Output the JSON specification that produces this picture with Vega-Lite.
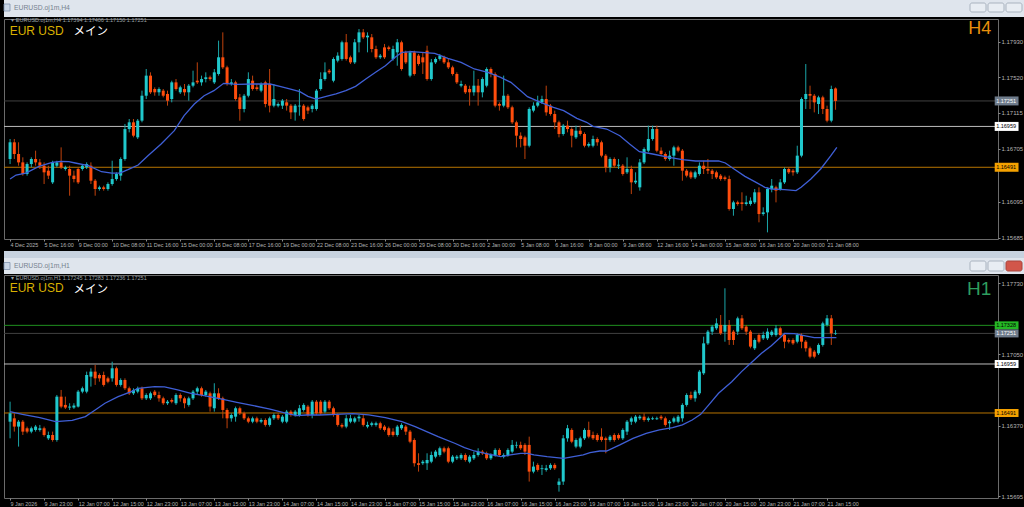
{
"$schema": "https://vega.github.io/schema/vega-lite/v6.json",
"background": "#000000",
"padding": {"left": 3, "top": 0, "right": 0, "bottom": 4},
"spacing": 0,
"config": {"view": {"stroke": "#6b6b6b"}, "text": {"font": "Liberation Sans"}, "axis": {"labelOverlap": false, "labelBound": false, "labelSeparation": 0, "title": null}},
"resolve": {"scale": {"x": "independent", "y": "independent", "color": "independent", "fill": "independent"}},
"datasets": {
"h4lv": [{"p":1.17251,"k":"price"},{"p":1.16959,"k":"white"},{"p":1.16491,"k":"orange"}],
"h1lv": [{"p":1.17328,"k":"green"},{"p":1.17251,"k":"price"},{"p":1.16959,"k":"white"},{"p":1.16491,"k":"orange"}],
"h4": [
{"i":0,"o":1.16586,"h":1.16815,"l":1.16528,"c":1.16777},{"i":1,"o":1.16777,"h":1.16815,"l":1.16586,"c":1.16643},{"i":2,"o":1.16643,"h":1.16777,"l":1.16509,"c":1.16547},{"i":3,"o":1.16547,"h":1.16605,"l":1.16395,"c":1.16414},{"i":4,"o":1.16414,"h":1.16547,"l":1.16395,"c":1.16528},{"i":5,"o":1.16528,"h":1.16605,"l":1.1649,"c":1.16586},{"i":6,"o":1.16586,"h":1.16681,"l":1.16509,"c":1.16547},{"i":7,"o":1.16547,"h":1.16586,"l":1.16471,"c":1.16509},{"i":8,"o":1.16509,"h":1.16547,"l":1.16299,"c":1.16433},{"i":9,"o":1.16452,"h":1.16509,"l":1.16356,"c":1.16395},
{"i":10,"o":1.16318,"h":1.16566,"l":1.16299,"c":1.16547},{"i":11,"o":1.16509,"h":1.16566,"l":1.1649,"c":1.16547},{"i":12,"o":1.16547,"h":1.16719,"l":1.16471,"c":1.1649},{"i":13,"o":1.16471,"h":1.16509,"l":1.16452,"c":1.1649},{"i":14,"o":1.16471,"h":1.16509,"l":1.16165,"c":1.16395},{"i":15,"o":1.16395,"h":1.16452,"l":1.16318,"c":1.16356},{"i":16,"o":1.16471,"h":1.1649,"l":1.16299,"c":1.16318},{"i":17,"o":1.16471,"h":1.16528,"l":1.16452,"c":1.16509},{"i":18,"o":1.1649,"h":1.16547,"l":1.16471,"c":1.16528},{"i":19,"o":1.16509,"h":1.16547,"l":1.16299,"c":1.16337},
{"i":20,"o":1.16337,"h":1.16356,"l":1.16165,"c":1.16242},{"i":21,"o":1.16242,"h":1.1628,"l":1.16223,"c":1.16261},{"i":22,"o":1.16261,"h":1.1628,"l":1.16223,"c":1.16242},{"i":23,"o":1.16242,"h":1.16318,"l":1.16223,"c":1.16299},{"i":24,"o":1.16299,"h":1.16566,"l":1.1628,"c":1.16356},{"i":25,"o":1.16356,"h":1.16433,"l":1.16337,"c":1.16414},{"i":26,"o":1.16395,"h":1.16605,"l":1.16337,"c":1.16586},{"i":27,"o":1.16586,"h":1.16987,"l":1.16566,"c":1.16929},{"i":28,"o":1.16929,"h":1.17044,"l":1.16891,"c":1.17006},{"i":29,"o":1.17006,"h":1.17044,"l":1.16834,"c":1.16853},
{"i":30,"o":1.16834,"h":1.17044,"l":1.16815,"c":1.17025},{"i":31,"o":1.17025,"h":1.17369,"l":1.17006,"c":1.17311},{"i":32,"o":1.17311,"h":1.17617,"l":1.17273,"c":1.17541},{"i":33,"o":1.17541,"h":1.17579,"l":1.17331,"c":1.1735},{"i":34,"o":1.17388,"h":1.17407,"l":1.17311,"c":1.1735},{"i":35,"o":1.1735,"h":1.17407,"l":1.17311,"c":1.17388},{"i":36,"o":1.17369,"h":1.17388,"l":1.17292,"c":1.17311},{"i":37,"o":1.17331,"h":1.17369,"l":1.17197,"c":1.17254},{"i":38,"o":1.17273,"h":1.17483,"l":1.17235,"c":1.17464},{"i":39,"o":1.17464,"h":1.17502,"l":1.17369,"c":1.17388},
{"i":40,"o":1.1735,"h":1.17426,"l":1.17331,"c":1.17407},{"i":41,"o":1.17388,"h":1.17445,"l":1.17311,"c":1.1735},{"i":42,"o":1.1735,"h":1.17445,"l":1.17254,"c":1.17426},{"i":43,"o":1.17426,"h":1.17598,"l":1.17407,"c":1.17464},{"i":44,"o":1.17483,"h":1.17693,"l":1.17445,"c":1.17464},{"i":45,"o":1.17464,"h":1.17541,"l":1.17426,"c":1.17502},{"i":46,"o":1.17502,"h":1.17579,"l":1.17464,"c":1.17522},{"i":47,"o":1.17522,"h":1.17541,"l":1.17483,"c":1.17502},{"i":48,"o":1.17464,"h":1.17617,"l":1.17445,"c":1.17579},{"i":49,"o":1.1756,"h":1.17942,"l":1.17541,"c":1.17751},
{"i":50,"o":1.17751,"h":1.18037,"l":1.17617,"c":1.17636},{"i":51,"o":1.17636,"h":1.17655,"l":1.17426,"c":1.17445},{"i":52,"o":1.17445,"h":1.17502,"l":1.17426,"c":1.17464},{"i":53,"o":1.17464,"h":1.17483,"l":1.17254,"c":1.17273},{"i":54,"o":1.17292,"h":1.17331,"l":1.17025,"c":1.17159},{"i":55,"o":1.17159,"h":1.17331,"l":1.1712,"c":1.17311},{"i":56,"o":1.17311,"h":1.17579,"l":1.17292,"c":1.17502},{"i":57,"o":1.17483,"h":1.17541,"l":1.17369,"c":1.17388},{"i":58,"o":1.17407,"h":1.17445,"l":1.17369,"c":1.17388},{"i":59,"o":1.17369,"h":1.17464,"l":1.1735,"c":1.17445},
{"i":60,"o":1.17464,"h":1.17483,"l":1.17178,"c":1.17216},{"i":61,"o":1.17445,"h":1.17617,"l":1.1712,"c":1.17197},{"i":62,"o":1.17197,"h":1.17445,"l":1.17178,"c":1.17273},{"i":63,"o":1.17197,"h":1.17235,"l":1.17178,"c":1.17216},{"i":64,"o":1.17197,"h":1.17273,"l":1.17159,"c":1.17254},{"i":65,"o":1.17235,"h":1.17273,"l":1.1714,"c":1.17197},{"i":66,"o":1.17197,"h":1.17216,"l":1.17044,"c":1.1712},{"i":67,"o":1.1712,"h":1.17216,"l":1.17025,"c":1.17197},{"i":68,"o":1.17188,"h":1.17388,"l":1.17082,"c":1.17197},{"i":69,"o":1.17197,"h":1.17216,"l":1.17025,"c":1.17044},
{"i":70,"o":1.17178,"h":1.17197,"l":1.17101,"c":1.1714},{"i":71,"o":1.17159,"h":1.17216,"l":1.1712,"c":1.17197},{"i":72,"o":1.17159,"h":1.17388,"l":1.1714,"c":1.17369},{"i":73,"o":1.17388,"h":1.17579,"l":1.17369,"c":1.17502},{"i":74,"o":1.17502,"h":1.17693,"l":1.17483,"c":1.17579},{"i":75,"o":1.17598,"h":1.17617,"l":1.1756,"c":1.17579},{"i":76,"o":1.17483,"h":1.17751,"l":1.17464,"c":1.17732},{"i":77,"o":1.17713,"h":1.17808,"l":1.17693,"c":1.1777},{"i":78,"o":1.17732,"h":1.17942,"l":1.17713,"c":1.17923},{"i":79,"o":1.17923,"h":1.18018,"l":1.17713,"c":1.17732},
{"i":80,"o":1.17751,"h":1.1777,"l":1.17674,"c":1.17693},{"i":81,"o":1.17693,"h":1.17961,"l":1.17674,"c":1.17923},{"i":82,"o":1.17923,"h":1.18075,"l":1.17808,"c":1.18037},{"i":83,"o":1.18037,"h":1.18075,"l":1.17961,"c":1.1798},{"i":84,"o":1.1798,"h":1.18037,"l":1.17808,"c":1.17999},{"i":85,"o":1.1798,"h":1.18018,"l":1.17808,"c":1.17846},{"i":86,"o":1.17846,"h":1.17884,"l":1.17732,"c":1.17751},{"i":87,"o":1.17751,"h":1.17789,"l":1.17732,"c":1.1777},{"i":88,"o":1.17865,"h":1.17904,"l":1.17732,"c":1.17751},{"i":89,"o":1.17865,"h":1.17884,"l":1.17827,"c":1.17846},
{"i":90,"o":1.17732,"h":1.17884,"l":1.17713,"c":1.17846},{"i":91,"o":1.17808,"h":1.17961,"l":1.17655,"c":1.17923},{"i":92,"o":1.17923,"h":1.17942,"l":1.17598,"c":1.17617},{"i":93,"o":1.17808,"h":1.17827,"l":1.17674,"c":1.17693},{"i":94,"o":1.17541,"h":1.17827,"l":1.17522,"c":1.17808},{"i":95,"o":1.17808,"h":1.17827,"l":1.17541,"c":1.1756},{"i":96,"o":1.1777,"h":1.17789,"l":1.17655,"c":1.17674},{"i":97,"o":1.17751,"h":1.17808,"l":1.1756,"c":1.17693},{"i":98,"o":1.17827,"h":1.17884,"l":1.17483,"c":1.17502},{"i":99,"o":1.17502,"h":1.17732,"l":1.17483,"c":1.17693},
{"i":100,"o":1.17693,"h":1.17751,"l":1.17674,"c":1.17732},{"i":101,"o":1.17732,"h":1.17789,"l":1.17713,"c":1.1777},{"i":102,"o":1.17751,"h":1.1777,"l":1.17674,"c":1.17693},{"i":103,"o":1.17693,"h":1.17732,"l":1.17617,"c":1.17636},{"i":104,"o":1.17636,"h":1.17655,"l":1.17541,"c":1.1756},{"i":105,"o":1.1756,"h":1.17579,"l":1.17445,"c":1.17464},{"i":106,"o":1.17426,"h":1.17483,"l":1.17407,"c":1.17445},{"i":107,"o":1.17426,"h":1.17445,"l":1.17331,"c":1.1735},{"i":108,"o":1.17388,"h":1.17426,"l":1.17197,"c":1.1735},{"i":109,"o":1.1735,"h":1.17598,"l":1.17311,"c":1.17426},
{"i":110,"o":1.17426,"h":1.17502,"l":1.17197,"c":1.1735},{"i":111,"o":1.1735,"h":1.17522,"l":1.17292,"c":1.17502},{"i":112,"o":1.17426,"h":1.17636,"l":1.17407,"c":1.17617},{"i":113,"o":1.17617,"h":1.17636,"l":1.17522,"c":1.1756},{"i":114,"o":1.1756,"h":1.17579,"l":1.17178,"c":1.17197},{"i":115,"o":1.17216,"h":1.17235,"l":1.1714,"c":1.17197},{"i":116,"o":1.17197,"h":1.17541,"l":1.17178,"c":1.17311},{"i":117,"o":1.17311,"h":1.17331,"l":1.17159,"c":1.17178},{"i":118,"o":1.17178,"h":1.17197,"l":1.16987,"c":1.17006},{"i":119,"o":1.17006,"h":1.17025,"l":1.16719,"c":1.16853},
{"i":120,"o":1.16853,"h":1.16891,"l":1.16719,"c":1.16815},{"i":121,"o":1.16834,"h":1.16853,"l":1.16586,"c":1.16738},{"i":122,"o":1.16738,"h":1.17178,"l":1.16719,"c":1.17159},{"i":123,"o":1.1714,"h":1.17235,"l":1.1712,"c":1.17197},{"i":124,"o":1.17197,"h":1.17311,"l":1.17178,"c":1.17235},{"i":125,"o":1.17235,"h":1.17311,"l":1.17216,"c":1.17273},{"i":126,"o":1.17273,"h":1.17426,"l":1.17082,"c":1.1712},{"i":127,"o":1.17197,"h":1.17216,"l":1.17082,"c":1.17101},{"i":128,"o":1.17101,"h":1.1714,"l":1.16929,"c":1.17006},{"i":129,"o":1.17006,"h":1.17025,"l":1.16834,"c":1.16872},
{"i":130,"o":1.16872,"h":1.16987,"l":1.16853,"c":1.16968},{"i":131,"o":1.16968,"h":1.17025,"l":1.16891,"c":1.16929},{"i":132,"o":1.16929,"h":1.16948,"l":1.16719,"c":1.16853},{"i":133,"o":1.16834,"h":1.16968,"l":1.16815,"c":1.1691},{"i":134,"o":1.1691,"h":1.16968,"l":1.16853,"c":1.16872},{"i":135,"o":1.16872,"h":1.16891,"l":1.16719,"c":1.16738},{"i":136,"o":1.16738,"h":1.16777,"l":1.16719,"c":1.16758},{"i":137,"o":1.16738,"h":1.16853,"l":1.16719,"c":1.16815},{"i":138,"o":1.16815,"h":1.16834,"l":1.16738,"c":1.16777},{"i":139,"o":1.16777,"h":1.16796,"l":1.16605,"c":1.16624},
{"i":140,"o":1.16624,"h":1.16643,"l":1.16433,"c":1.1649},{"i":141,"o":1.1649,"h":1.16605,"l":1.16433,"c":1.16586},{"i":142,"o":1.16586,"h":1.16605,"l":1.1649,"c":1.16509},{"i":143,"o":1.16509,"h":1.16586,"l":1.16471,"c":1.1652},{"i":144,"o":1.16509,"h":1.16528,"l":1.16395,"c":1.16414},{"i":145,"o":1.16433,"h":1.16605,"l":1.16414,"c":1.16471},{"i":146,"o":1.16471,"h":1.16509,"l":1.16184,"c":1.16318},{"i":147,"o":1.16318,"h":1.16433,"l":1.16299,"c":1.16337},{"i":148,"o":1.16261,"h":1.16586,"l":1.16223,"c":1.16547},{"i":149,"o":1.16547,"h":1.16719,"l":1.16528,"c":1.167},
{"i":150,"o":1.16681,"h":1.16968,"l":1.16662,"c":1.16815},{"i":151,"o":1.16815,"h":1.16968,"l":1.16796,"c":1.16929},{"i":152,"o":1.16929,"h":1.16968,"l":1.16662,"c":1.16681},{"i":153,"o":1.16681,"h":1.16719,"l":1.16624,"c":1.16643},{"i":154,"o":1.16643,"h":1.16662,"l":1.16566,"c":1.16586},{"i":155,"o":1.16586,"h":1.16681,"l":1.16566,"c":1.16624},{"i":156,"o":1.16624,"h":1.16738,"l":1.16509,"c":1.16719},{"i":157,"o":1.16719,"h":1.16738,"l":1.16662,"c":1.16681},{"i":158,"o":1.16681,"h":1.167,"l":1.16337,"c":1.16452},{"i":159,"o":1.16452,"h":1.16471,"l":1.16375,"c":1.16395},
{"i":160,"o":1.16433,"h":1.16452,"l":1.16356,"c":1.16375},{"i":161,"o":1.16375,"h":1.16452,"l":1.16356,"c":1.16433},{"i":162,"o":1.16414,"h":1.16547,"l":1.16395,"c":1.16509},{"i":163,"o":1.16509,"h":1.16566,"l":1.16414,"c":1.16471},{"i":164,"o":1.16471,"h":1.16586,"l":1.16414,"c":1.16452},{"i":165,"o":1.16452,"h":1.16471,"l":1.16356,"c":1.16414},{"i":166,"o":1.16433,"h":1.16452,"l":1.16356,"c":1.16375},{"i":167,"o":1.16395,"h":1.16414,"l":1.16337,"c":1.16356},{"i":168,"o":1.16375,"h":1.16395,"l":1.16337,"c":1.16356},{"i":169,"o":1.16356,"h":1.16395,"l":1.15994,"c":1.16013},
{"i":170,"o":1.16013,"h":1.16108,"l":1.15936,"c":1.16089},{"i":171,"o":1.16089,"h":1.16108,"l":1.16051,"c":1.1607},{"i":172,"o":1.16089,"h":1.16204,"l":1.15994,"c":1.1607},{"i":173,"o":1.1607,"h":1.16165,"l":1.16051,"c":1.16089},{"i":174,"o":1.1607,"h":1.16146,"l":1.16051,"c":1.16108},{"i":175,"o":1.16089,"h":1.16242,"l":1.1607,"c":1.16204},{"i":176,"o":1.16204,"h":1.16261,"l":1.1586,"c":1.15955},{"i":177,"o":1.15955,"h":1.16032,"l":1.15936,"c":1.15974},{"i":178,"o":1.15974,"h":1.16261,"l":1.15745,"c":1.16242},{"i":179,"o":1.16242,"h":1.16356,"l":1.16204,"c":1.1628},
{"i":180,"o":1.16261,"h":1.1628,"l":1.16089,"c":1.16223},{"i":181,"o":1.16242,"h":1.16356,"l":1.16223,"c":1.16318},{"i":182,"o":1.16318,"h":1.1649,"l":1.16299,"c":1.16471},{"i":183,"o":1.16471,"h":1.1649,"l":1.16414,"c":1.16433},{"i":184,"o":1.16452,"h":1.16471,"l":1.16395,"c":1.16433},{"i":185,"o":1.16433,"h":1.16738,"l":1.16414,"c":1.16624},{"i":186,"o":1.16624,"h":1.17292,"l":1.16605,"c":1.17273},{"i":187,"o":1.17273,"h":1.17674,"l":1.17159,"c":1.17331},{"i":188,"o":1.17331,"h":1.17426,"l":1.17159,"c":1.17311},{"i":189,"o":1.17311,"h":1.17331,"l":1.1712,"c":1.17235},
{"i":190,"o":1.17216,"h":1.17311,"l":1.17101,"c":1.17292},{"i":191,"o":1.17292,"h":1.17311,"l":1.17101,"c":1.17159},{"i":192,"o":1.17159,"h":1.17197,"l":1.17006,"c":1.17025},{"i":193,"o":1.17025,"h":1.17426,"l":1.17006,"c":1.17388},{"i":194,"o":1.17394,"h":1.17406,"l":1.1715,"c":1.17251}
],
"h4ma": [
{"i":0,"m":1.16356},{"i":1.4,"m":1.16402},{"i":3.7,"m":1.16425},{"i":6.8,"m":1.16502},{"i":9.9,"m":1.16547},{"i":11.9,"m":1.16559},{"i":13.8,"m":1.16555},{"i":15.3,"m":1.1654},{"i":18.4,"m":1.16509},{"i":21.5,"m":1.1644},{"i":23.9,"m":1.16425},{"i":25.8,"m":1.16425},{"i":27.7,"m":1.16463},{"i":30.1,"m":1.16517},{"i":32.4,"m":1.16624},{"i":35.5,"m":1.16758},{"i":38.6,"m":1.1691},{"i":40.9,"m":1.17082},{"i":43.3,"m":1.17216},{"i":45.6,"m":1.17311},{"i":47.9,"m":1.17369},{"i":50.2,"m":1.17453},{"i":53.3,"m":1.17441},{"i":57.2,"m":1.17445},{"i":61.1,"m":1.17445},{"i":63.4,"m":1.17418},{"i":65.7,"m":1.17388},{"i":68.1,"m":1.17357},{"i":70,"m":1.17304},{"i":71.9,"m":1.17273},{"i":74.3,"m":1.17304},{"i":76.6,"m":1.17331},{"i":78.9,"m":1.17369},{"i":81.2,"m":1.17418},{"i":83.6,"m":1.17502},{"i":85.9,"m":1.17579},{"i":88.2,"m":1.17655},{"i":90.5,"m":1.17751},{"i":92.1,"m":1.17808},{"i":94.4,"m":1.17816},{"i":96.7,"m":1.17808},{"i":99.8,"m":1.17797},{"i":102.9,"m":1.17739},{"i":106,"m":1.17693},{"i":109.1,"m":1.17617},{"i":112.3,"m":1.17579},{"i":115.3,"m":1.17522},{"i":117.7,"m":1.17464},{"i":120,"m":1.17369},{"i":121.6,"m":1.173},{"i":124.7,"m":1.17235},{"i":127.7,"m":1.17178},{"i":130.1,"m":1.1714},{"i":133.2,"m":1.17052},{"i":135.5,"m":1.17006},{"i":137,"m":1.1696},{"i":140.2,"m":1.16929},{"i":143.3,"m":1.16853},{"i":145.6,"m":1.16758},{"i":147.9,"m":1.1667},{"i":151,"m":1.16643},{"i":154.9,"m":1.16605},{"i":158,"m":1.16578},{"i":161.1,"m":1.16563},{"i":166.5,"m":1.16563},{"i":168.1,"m":1.1654},{"i":170.4,"m":1.16463},{"i":172.7,"m":1.16387},{"i":175,"m":1.16326},{"i":177.4,"m":1.16261},{"i":178.9,"m":1.16242},{"i":182,"m":1.16234},{"i":184.7,"m":1.16223},{"i":185.9,"m":1.16261},{"i":188.2,"m":1.16356},{"i":190.5,"m":1.16471},{"i":192.9,"m":1.16624},{"i":194.3,"m":1.16719}
],
"h1": [
{"i":0,"o":1.16408,"h":1.16599,"l":1.16249,"c":1.16488},{"i":1,"o":1.1644,"h":1.16488,"l":1.16313,"c":1.16361},{"i":2,"o":1.16361,"h":1.16424,"l":1.1617,"c":1.16408},{"i":3,"o":1.16408,"h":1.16424,"l":1.16281,"c":1.16313},{"i":4,"o":1.16345,"h":1.16361,"l":1.16297,"c":1.16313},{"i":5,"o":1.16313,"h":1.16361,"l":1.16297,"c":1.16345},{"i":6,"o":1.16329,"h":1.16377,"l":1.16313,"c":1.16361},{"i":7,"o":1.16329,"h":1.16377,"l":1.16313,"c":1.16345},{"i":8,"o":1.16345,"h":1.16361,"l":1.16265,"c":1.16281},{"i":9,"o":1.16249,"h":1.16313,"l":1.16233,"c":1.16281},
{"i":10,"o":1.16281,"h":1.16313,"l":1.16217,"c":1.16233},{"i":11,"o":1.16233,"h":1.16663,"l":1.16217,"c":1.16647},{"i":12,"o":1.16647,"h":1.16711,"l":1.16536,"c":1.16552},{"i":13,"o":1.16568,"h":1.16647,"l":1.16529,"c":1.16543},{"i":14,"o":1.16543,"h":1.16584,"l":1.1652,"c":1.16552},{"i":15,"o":1.16543,"h":1.16584,"l":1.1653,"c":1.16562},{"i":16,"o":1.16552,"h":1.16711,"l":1.16543,"c":1.16695},{"i":17,"o":1.16695,"h":1.16743,"l":1.16679,"c":1.16727},{"i":18,"o":1.16695,"h":1.16886,"l":1.16679,"c":1.16854},{"i":19,"o":1.16838,"h":1.16918,"l":1.16743,"c":1.16886},
{"i":20,"o":1.16886,"h":1.1695,"l":1.16759,"c":1.16822},{"i":21,"o":1.16854,"h":1.1687,"l":1.1679,"c":1.16822},{"i":22,"o":1.16854,"h":1.16886,"l":1.16743,"c":1.16759},{"i":23,"o":1.16822,"h":1.16838,"l":1.16775,"c":1.1679},{"i":24,"o":1.16822,"h":1.16981,"l":1.1679,"c":1.16918},{"i":25,"o":1.16918,"h":1.16934,"l":1.16743,"c":1.16759},{"i":26,"o":1.16759,"h":1.16822,"l":1.16743,"c":1.16806},{"i":27,"o":1.16806,"h":1.16822,"l":1.16711,"c":1.16727},{"i":28,"o":1.16727,"h":1.16743,"l":1.16663,"c":1.16679},{"i":29,"o":1.16679,"h":1.16727,"l":1.16663,"c":1.16711},
{"i":30,"o":1.16695,"h":1.16743,"l":1.16679,"c":1.16727},{"i":31,"o":1.16727,"h":1.16743,"l":1.16615,"c":1.16631},{"i":32,"o":1.16631,"h":1.16679,"l":1.16615,"c":1.16663},{"i":33,"o":1.16631,"h":1.16695,"l":1.16615,"c":1.16679},{"i":34,"o":1.16695,"h":1.16711,"l":1.16647,"c":1.16663},{"i":35,"o":1.16663,"h":1.16695,"l":1.16599,"c":1.16631},{"i":36,"o":1.16631,"h":1.16647,"l":1.16568,"c":1.16584},{"i":37,"o":1.16584,"h":1.16615,"l":1.16568,"c":1.16599},{"i":38,"o":1.16615,"h":1.16631,"l":1.16584,"c":1.16599},{"i":39,"o":1.16584,"h":1.16679,"l":1.16568,"c":1.16663},
{"i":40,"o":1.16663,"h":1.16679,"l":1.16599,"c":1.16631},{"i":41,"o":1.16631,"h":1.16647,"l":1.16536,"c":1.16584},{"i":42,"o":1.16568,"h":1.16647,"l":1.16552,"c":1.16631},{"i":43,"o":1.16631,"h":1.16711,"l":1.16615,"c":1.16695},{"i":44,"o":1.16695,"h":1.16743,"l":1.16663,"c":1.16727},{"i":45,"o":1.16727,"h":1.16743,"l":1.16647,"c":1.16663},{"i":46,"o":1.16663,"h":1.16711,"l":1.16647,"c":1.16695},{"i":47,"o":1.16679,"h":1.16695,"l":1.16504,"c":1.16552},{"i":48,"o":1.16536,"h":1.16775,"l":1.16504,"c":1.16679},{"i":49,"o":1.16679,"h":1.16727,"l":1.16615,"c":1.16631},
{"i":50,"o":1.16631,"h":1.16647,"l":1.1644,"c":1.1652},{"i":51,"o":1.1652,"h":1.16536,"l":1.16345,"c":1.1644},{"i":52,"o":1.1644,"h":1.16488,"l":1.16408,"c":1.16472},{"i":53,"o":1.16456,"h":1.16552,"l":1.16408,"c":1.16536},{"i":54,"o":1.16536,"h":1.16552,"l":1.16472,"c":1.16488},{"i":55,"o":1.16488,"h":1.16504,"l":1.16424,"c":1.1644},{"i":56,"o":1.1644,"h":1.16456,"l":1.16393,"c":1.16408},{"i":57,"o":1.16408,"h":1.16456,"l":1.16393,"c":1.1644},{"i":58,"o":1.1644,"h":1.16456,"l":1.16393,"c":1.16408},{"i":59,"o":1.16408,"h":1.1644,"l":1.16393,"c":1.16424},
{"i":60,"o":1.16424,"h":1.1644,"l":1.16361,"c":1.16377},{"i":61,"o":1.16377,"h":1.16456,"l":1.16361,"c":1.1644},{"i":62,"o":1.1644,"h":1.16488,"l":1.16424,"c":1.16472},{"i":63,"o":1.16472,"h":1.16488,"l":1.16424,"c":1.1644},{"i":64,"o":1.16408,"h":1.16472,"l":1.16393,"c":1.16456},{"i":65,"o":1.16408,"h":1.1652,"l":1.16393,"c":1.16504},{"i":66,"o":1.16504,"h":1.1652,"l":1.16456,"c":1.16472},{"i":67,"o":1.16472,"h":1.1652,"l":1.16456,"c":1.16504},{"i":68,"o":1.16472,"h":1.16568,"l":1.16456,"c":1.16536},{"i":69,"o":1.1652,"h":1.16584,"l":1.16504,"c":1.16568},
{"i":70,"o":1.16552,"h":1.16568,"l":1.16456,"c":1.16472},{"i":71,"o":1.16472,"h":1.16615,"l":1.1644,"c":1.16599},{"i":72,"o":1.16599,"h":1.16615,"l":1.16472,"c":1.16488},{"i":73,"o":1.16599,"h":1.16615,"l":1.16472,"c":1.16488},{"i":74,"o":1.16504,"h":1.16615,"l":1.16488,"c":1.16599},{"i":75,"o":1.16599,"h":1.16615,"l":1.1652,"c":1.16536},{"i":76,"o":1.16536,"h":1.16552,"l":1.16456,"c":1.16472},{"i":77,"o":1.16472,"h":1.16488,"l":1.16361,"c":1.16377},{"i":78,"o":1.16377,"h":1.16393,"l":1.16345,"c":1.16361},{"i":79,"o":1.16361,"h":1.16472,"l":1.16345,"c":1.1644},
{"i":80,"o":1.16408,"h":1.16472,"l":1.16393,"c":1.1644},{"i":81,"o":1.16408,"h":1.16456,"l":1.16393,"c":1.1644},{"i":82,"o":1.1644,"h":1.16472,"l":1.16408,"c":1.16456},{"i":83,"o":1.1644,"h":1.16472,"l":1.16361,"c":1.16377},{"i":84,"o":1.16361,"h":1.16408,"l":1.16345,"c":1.16377},{"i":85,"o":1.16377,"h":1.16408,"l":1.16361,"c":1.16393},{"i":86,"o":1.16377,"h":1.16408,"l":1.16361,"c":1.16393},{"i":87,"o":1.16393,"h":1.16408,"l":1.16329,"c":1.16345},{"i":88,"o":1.16361,"h":1.16377,"l":1.16313,"c":1.16329},{"i":89,"o":1.16345,"h":1.16361,"l":1.16265,"c":1.16281},
{"i":90,"o":1.16313,"h":1.16345,"l":1.16265,"c":1.16281},{"i":91,"o":1.16281,"h":1.16377,"l":1.16265,"c":1.16361},{"i":92,"o":1.16345,"h":1.16393,"l":1.16329,"c":1.16377},{"i":93,"o":1.16361,"h":1.16377,"l":1.16281,"c":1.16313},{"i":94,"o":1.16313,"h":1.16329,"l":1.16202,"c":1.16217},{"i":95,"o":1.16233,"h":1.16249,"l":1.15979,"c":1.16011},{"i":96,"o":1.16011,"h":1.16106,"l":1.15931,"c":1.15995},{"i":97,"o":1.16011,"h":1.16042,"l":1.15995,"c":1.16026},{"i":98,"o":1.16011,"h":1.16106,"l":1.15947,"c":1.16042},{"i":99,"o":1.16026,"h":1.16122,"l":1.16011,"c":1.1609},
{"i":100,"o":1.16074,"h":1.16138,"l":1.16058,"c":1.16122},{"i":101,"o":1.1609,"h":1.1617,"l":1.16074,"c":1.16154},{"i":102,"o":1.16154,"h":1.1617,"l":1.16106,"c":1.16122},{"i":103,"o":1.16154,"h":1.1617,"l":1.16011,"c":1.16026},{"i":104,"o":1.16026,"h":1.1609,"l":1.16011,"c":1.16074},{"i":105,"o":1.16058,"h":1.1609,"l":1.16042,"c":1.16074},{"i":106,"o":1.16058,"h":1.16106,"l":1.16042,"c":1.1609},{"i":107,"o":1.1609,"h":1.16106,"l":1.16026,"c":1.16042},{"i":108,"o":1.16026,"h":1.1609,"l":1.16011,"c":1.16074},{"i":109,"o":1.16058,"h":1.16122,"l":1.16042,"c":1.1609},
{"i":110,"o":1.1609,"h":1.16154,"l":1.16074,"c":1.16122},{"i":111,"o":1.16122,"h":1.16138,"l":1.1609,"c":1.16106},{"i":112,"o":1.16106,"h":1.16122,"l":1.16042,"c":1.16058},{"i":113,"o":1.16058,"h":1.16106,"l":1.16042,"c":1.1609},{"i":114,"o":1.1609,"h":1.16154,"l":1.16074,"c":1.16138},{"i":115,"o":1.16138,"h":1.16154,"l":1.16074,"c":1.1609},{"i":116,"o":1.16074,"h":1.16106,"l":1.16058,"c":1.1609},{"i":117,"o":1.1609,"h":1.16154,"l":1.16074,"c":1.16138},{"i":118,"o":1.16122,"h":1.16233,"l":1.16106,"c":1.16186},{"i":119,"o":1.1618,"h":1.16217,"l":1.16154,"c":1.16186},
{"i":120,"o":1.16186,"h":1.16217,"l":1.16138,"c":1.16154},{"i":121,"o":1.16186,"h":1.16202,"l":1.1609,"c":1.16122},{"i":122,"o":1.16186,"h":1.16265,"l":1.15836,"c":1.15931},{"i":123,"o":1.15931,"h":1.16026,"l":1.15915,"c":1.15979},{"i":124,"o":1.15995,"h":1.16011,"l":1.15931,"c":1.15947},{"i":125,"o":1.15955,"h":1.15995,"l":1.15899,"c":1.15963},{"i":126,"o":1.15947,"h":1.15995,"l":1.15931,"c":1.15963},{"i":127,"o":1.15963,"h":1.16011,"l":1.15947,"c":1.15995},{"i":128,"o":1.15995,"h":1.16011,"l":1.15947,"c":1.15963},{"i":129,"o":1.15804,"h":1.15867,"l":1.1574,"c":1.15836},
{"i":130,"o":1.15836,"h":1.16281,"l":1.15804,"c":1.16249},{"i":131,"o":1.16249,"h":1.16377,"l":1.16217,"c":1.16345},{"i":132,"o":1.16329,"h":1.16345,"l":1.16202,"c":1.16217},{"i":133,"o":1.1617,"h":1.16249,"l":1.16154,"c":1.16233},{"i":134,"o":1.1617,"h":1.16265,"l":1.16154,"c":1.16249},{"i":135,"o":1.16249,"h":1.16345,"l":1.16233,"c":1.16329},{"i":136,"o":1.16329,"h":1.16408,"l":1.16249,"c":1.16265},{"i":137,"o":1.16281,"h":1.16313,"l":1.16233,"c":1.16249},{"i":138,"o":1.16281,"h":1.16297,"l":1.16217,"c":1.16233},{"i":139,"o":1.16265,"h":1.16345,"l":1.16217,"c":1.16233},
{"i":140,"o":1.16249,"h":1.16265,"l":1.16106,"c":1.16233},{"i":141,"o":1.16233,"h":1.16281,"l":1.16217,"c":1.16265},{"i":142,"o":1.16281,"h":1.16297,"l":1.16217,"c":1.16233},{"i":143,"o":1.16281,"h":1.16297,"l":1.16233,"c":1.16249},{"i":144,"o":1.16249,"h":1.16345,"l":1.16233,"c":1.16329},{"i":145,"o":1.16313,"h":1.16424,"l":1.16281,"c":1.16408},{"i":146,"o":1.16408,"h":1.16456,"l":1.16377,"c":1.1644},{"i":147,"o":1.16408,"h":1.16472,"l":1.16393,"c":1.16456},{"i":148,"o":1.1644,"h":1.16472,"l":1.16424,"c":1.16456},{"i":149,"o":1.16456,"h":1.16488,"l":1.16408,"c":1.16424},
{"i":150,"o":1.16424,"h":1.16456,"l":1.16408,"c":1.1644},{"i":151,"o":1.16432,"h":1.16456,"l":1.16424,"c":1.1644},{"i":152,"o":1.16432,"h":1.16456,"l":1.16424,"c":1.1644},{"i":153,"o":1.16456,"h":1.16472,"l":1.16424,"c":1.1644},{"i":154,"o":1.1644,"h":1.16456,"l":1.16361,"c":1.16377},{"i":155,"o":1.16393,"h":1.16424,"l":1.16329,"c":1.16408},{"i":156,"o":1.16408,"h":1.16456,"l":1.16393,"c":1.1644},{"i":157,"o":1.16408,"h":1.16472,"l":1.16393,"c":1.16456},{"i":158,"o":1.1644,"h":1.16584,"l":1.16408,"c":1.16568},{"i":159,"o":1.16568,"h":1.16679,"l":1.16552,"c":1.16663},
{"i":160,"o":1.16663,"h":1.16695,"l":1.16615,"c":1.16631},{"i":161,"o":1.16631,"h":1.16711,"l":1.16599,"c":1.16695},{"i":162,"o":1.16679,"h":1.16902,"l":1.16663,"c":1.16886},{"i":163,"o":1.1687,"h":1.1722,"l":1.16854,"c":1.17156},{"i":164,"o":1.17156,"h":1.17284,"l":1.17141,"c":1.17268},{"i":165,"o":1.17268,"h":1.17332,"l":1.17236,"c":1.17316},{"i":166,"o":1.173,"h":1.17395,"l":1.17284,"c":1.17347},{"i":167,"o":1.17332,"h":1.17427,"l":1.17236,"c":1.17252},{"i":168,"o":1.17268,"h":1.17682,"l":1.17172,"c":1.17332},{"i":169,"o":1.17332,"h":1.17379,"l":1.17141,"c":1.17188},
{"i":170,"o":1.17268,"h":1.17284,"l":1.17141,"c":1.17188},{"i":171,"o":1.17268,"h":1.17411,"l":1.17236,"c":1.17395},{"i":172,"o":1.17395,"h":1.17427,"l":1.17284,"c":1.173},{"i":173,"o":1.17316,"h":1.17332,"l":1.17236,"c":1.17268},{"i":174,"o":1.17268,"h":1.17284,"l":1.17109,"c":1.17125},{"i":175,"o":1.17109,"h":1.17204,"l":1.17093,"c":1.17188},{"i":176,"o":1.17236,"h":1.17252,"l":1.17156,"c":1.17172},{"i":177,"o":1.17204,"h":1.17268,"l":1.17188,"c":1.17236},{"i":178,"o":1.17204,"h":1.173,"l":1.17188,"c":1.17268},{"i":179,"o":1.17236,"h":1.17284,"l":1.1722,"c":1.17268},
{"i":180,"o":1.17236,"h":1.17332,"l":1.1722,"c":1.173},{"i":181,"o":1.173,"h":1.17316,"l":1.1722,"c":1.17236},{"i":182,"o":1.17236,"h":1.17252,"l":1.17109,"c":1.17172},{"i":183,"o":1.17188,"h":1.17204,"l":1.17156,"c":1.17172},{"i":184,"o":1.17188,"h":1.17204,"l":1.17141,"c":1.17156},{"i":185,"o":1.17172,"h":1.17252,"l":1.17156,"c":1.17236},{"i":186,"o":1.17236,"h":1.17252,"l":1.17109,"c":1.17172},{"i":187,"o":1.17172,"h":1.17188,"l":1.17077,"c":1.17109},{"i":188,"o":1.17109,"h":1.17125,"l":1.17013,"c":1.17029},{"i":189,"o":1.17077,"h":1.17093,"l":1.17013,"c":1.17029},
{"i":190,"o":1.17061,"h":1.17156,"l":1.17045,"c":1.17141},{"i":191,"o":1.17141,"h":1.17363,"l":1.17125,"c":1.17347},{"i":192,"o":1.17332,"h":1.17427,"l":1.17316,"c":1.17395},{"i":193,"o":1.17395,"h":1.17427,"l":1.17141,"c":1.17252},{"i":194,"o":1.17245,"h":1.17283,"l":1.17236,"c":1.17251}
],
"h1ma": [
{"i":0,"m":1.16504},{"i":2.9,"m":1.16478},{"i":7,"m":1.16447},{"i":10.7,"m":1.16408},{"i":14.6,"m":1.16421},{"i":17.7,"m":1.16456},{"i":20,"m":1.1652},{"i":22.3,"m":1.16584},{"i":25.4,"m":1.16647},{"i":28.5,"m":1.16695},{"i":30.1,"m":1.16727},{"i":34,"m":1.16743},{"i":36.3,"m":1.1674},{"i":39.4,"m":1.16711},{"i":42.5,"m":1.16679},{"i":45.6,"m":1.16657},{"i":49.5,"m":1.16625},{"i":53.3,"m":1.16593},{"i":57.2,"m":1.16561},{"i":61.1,"m":1.16529},{"i":65,"m":1.16488},{"i":67.3,"m":1.16466},{"i":69.6,"m":1.16472},{"i":72.7,"m":1.16472},{"i":76.6,"m":1.16478},{"i":80.5,"m":1.16485},{"i":84.3,"m":1.16472},{"i":88.2,"m":1.16447},{"i":92.1,"m":1.16408},{"i":95.2,"m":1.16361},{"i":97.9,"m":1.16313},{"i":100.6,"m":1.16265},{"i":104.5,"m":1.16202},{"i":106.8,"m":1.1616},{"i":109.1,"m":1.16128},{"i":112.2,"m":1.161},{"i":115.3,"m":1.16074},{"i":117.6,"m":1.1609},{"i":120,"m":1.16106},{"i":121.6,"m":1.16106},{"i":123.1,"m":1.1609},{"i":126.2,"m":1.16074},{"i":130.1,"m":1.16058},{"i":132.4,"m":1.16074},{"i":134.7,"m":1.1609},{"i":136.3,"m":1.16112},{"i":138.6,"m":1.16128},{"i":140.2,"m":1.16128},{"i":143.3,"m":1.16186},{"i":146.4,"m":1.16249},{"i":149.5,"m":1.16297},{"i":152.6,"m":1.16329},{"i":155.7,"m":1.16351},{"i":158,"m":1.16377},{"i":160.3,"m":1.16424},{"i":162.3,"m":1.16478},{"i":164.2,"m":1.16568},{"i":166.5,"m":1.16679},{"i":169.6,"m":1.1679},{"i":171.9,"m":1.16886},{"i":174.3,"m":1.16975},{"i":176.6,"m":1.17061},{"i":178.9,"m":1.17134},{"i":181.2,"m":1.1722},{"i":182,"m":1.17252},{"i":184.3,"m":1.17249},{"i":186.6,"m":1.1723},{"i":189,"m":1.17211},{"i":192.1,"m":1.17211},{"i":194.2,"m":1.17211}
]
},
"vconcat": [
{
"width": 1021, "height": 17,
"view": {"fill": "#dfe5ed", "stroke": null},
"data": {"values": [{}]},
"layer": [
{"mark": {"type": "text", "align": "left", "baseline": "middle", "fontSize": 6.8, "color": "#76828f"},
 "encoding": {"x": {"datum": 10, "scale": {"domain": [0, 1021], "nice": false, "zero": false}, "axis": null}, "y": {"datum": 7.5, "scale": {"domain": [0, 17], "reverse": true, "nice": false, "zero": false}, "axis": null}, "text": {"value": "EURUSD.oj1m,H4"}}},
{"mark": {"type": "rect", "fill": "#c9d6e6", "stroke": "#7f93ad", "strokeWidth": 0.8}, "encoding": {"x": {"datum": 0}, "x2": {"datum": 6}, "y": {"datum": 4}, "y2": {"datum": 11}}},
{"mark": {"type": "rect", "fill": "#e8edf3", "stroke": "#a9b3bf", "cornerRadius": 2}, "encoding": {"x": {"datum": 966}, "x2": {"datum": 982}, "y": {"datum": 3}, "y2": {"datum": 12}}},
{"mark": {"type": "rect", "fill": "#e8edf3", "stroke": "#a9b3bf", "cornerRadius": 2}, "encoding": {"x": {"datum": 984}, "x2": {"datum": 1000}, "y": {"datum": 3}, "y2": {"datum": 12}}},
{"mark": {"type": "rect", "fill": "#e8edf3", "stroke": "#a9b3bf", "cornerRadius": 2}, "encoding": {"x": {"datum": 1002}, "x2": {"datum": 1018}, "y": {"datum": 3}, "y2": {"datum": 12}}}
]
},
{
"width": 994, "height": 220,
"view": {"fill": "#000000", "stroke": "#6b6b6b"},
"layer": [
{"data": {"name": "h4lv"}, "mark": {"type": "rule", "strokeWidth": 1},
 "encoding": {
  "y": {"field": "p", "type": "quantitative", "title": null, "scale": {"domain": [1.15669, 1.1819], "nice": false, "zero": false},
        "axis": {"orient": "right", "values": [1.15685,1.1589,1.16095,1.16295,1.16705,1.1691,1.17115,1.1732,1.1752,1.17725,1.1793,1.18135], "format": ".5f", "title": null, "grid": false, "domain": false, "tickSize": 2, "tickColor": "#8a8a8a", "labelPadding": 1, "labelFont": "Liberation Sans", "labelFontSize": 6, "labelColor": "#b4b4b4", "labelOverlap": false, "labelBound": false, "labelSeparation": 0}},
  "color": {"field": "k", "type": "nominal", "legend": null, "scale": {"domain": ["price", "white", "orange", "green"], "range": ["#404040", "#bdbdbd", "#b87400", "#1f8f1f"]}}}},
{"data": {"name": "h4"}, "mark": {"type": "rule", "strokeWidth": 1},
 "encoding": {
  "x": {"field": "i", "type": "quantitative", "title": null, "scale": {"domain": [-0.25, 231], "nice": false, "zero": false},
        "axis": {"values": [0,8,16,24,32,40,48,56,64,72,80,88,96,104,112,120,128,136,144,152,160,168,176,184,192], "labelExpr": "['4 Dec 2025','5 Dec 16:00','9 Dec 00:00','10 Dec 08:00','11 Dec 16:00','15 Dec 00:00','16 Dec 08:00','17 Dec 16:00','19 Dec 00:00','22 Dec 08:00','23 Dec 16:00','26 Dec 00:00','29 Dec 08:00','30 Dec 16:00','2 Jan 00:00','5 Jan 08:00','6 Jan 16:00','8 Jan 00:00','9 Jan 08:00','12 Jan 16:00','14 Jan 00:00','15 Jan 08:00','16 Jan 16:00','20 Jan 00:00','21 Jan 08:00'][round(datum.value/8)]", "title": null, "grid": false, "domain": false, "tickSize": 2, "tickColor": "#8a8a8a", "labelPadding": 1, "labelAlign": "left", "labelFont": "Liberation Sans Narrow, Liberation Sans", "labelFontSize": 5.4, "labelColor": "#b4b4b4", "labelOverlap": false, "labelBound": false, "labelFlush": false}},
  "y": {"field": "l", "type": "quantitative", "title": null}, "y2": {"field": "h"},
  "color": {"condition": {"test": "datum.c >= datum.o", "value": "#1aa6a8"}, "value": "#c0420c"}}},
{"data": {"name": "h4"}, "mark": {"type": "bar", "width": 3},
 "encoding": {"x": {"field": "i", "type": "quantitative", "title": null}, "y": {"field": "o", "type": "quantitative", "title": null}, "y2": {"field": "c"},
  "color": {"condition": {"test": "datum.c >= datum.o", "value": "#20c8cc"}, "value": "#ff4d0d"}}},
{"data": {"name": "h4ma"}, "mark": {"type": "line", "color": "#3f5fd6", "strokeWidth": 1.3},
 "encoding": {"x": {"field": "i", "type": "quantitative", "title": null}, "y": {"field": "m", "type": "quantitative", "title": null}}},
{"data": {"name": "h4lv"}, "mark": {"type": "rect", "height": 9},
 "encoding": {"x": {"datum": 231.4}, "x2": {"datum": 237}, "y": {"field": "p", "type": "quantitative", "title": null},
  "fill": {"field": "k", "type": "nominal", "legend": null, "scale": {"domain": ["price", "white", "orange", "green"], "range": ["#6e7b8b", "#ffffff", "#f4a100", "#25b825"]}}}},
{"data": {"name": "h4lv"}, "mark": {"type": "text", "align": "left", "baseline": "middle", "fontSize": 5.5, "dx": 1},
 "encoding": {"x": {"datum": 231.5}, "y": {"field": "p", "type": "quantitative", "title": null}, "text": {"field": "p", "format": ".5f"},
  "color": {"condition": {"test": "datum.k == 'price'", "value": "#ffffff"}, "value": "#000000"}}},
{"data": {"values": [{}]}, "mark": {"type": "text", "align": "left", "baseline": "alphabetic", "fontSize": 5.5, "color": "#9aa0a6"},
 "encoding": {"x": {"datum": 0.3}, "y": {"datum": 1.18158}, "text": {"value": "▾ EURUSD.oj1m,H4  1.17394 1.17406 1.17150 1.17251"}}},
{"data": {"values": [{}]}, "mark": {"type": "text", "align": "left", "baseline": "alphabetic", "fontSize": 12, "color": "#d8b000"},
 "encoding": {"x": {"datum": -0.1}, "y": {"datum": 1.18012}, "text": {"value": "EUR USD"}}},
{"data": {"values": [{}]}, "mark": {"type": "text", "align": "left", "baseline": "alphabetic", "fontSize": 11.5, "font": "Noto Sans CJK JP", "color": "#ffffff"},
 "encoding": {"x": {"datum": 14.9}, "y": {"datum": 1.18006}, "text": {"value": "メイン"}}},
{"data": {"values": [{}]}, "mark": {"type": "text", "align": "right", "baseline": "alphabetic", "fontSize": 18, "color": "#e8900c"},
 "encoding": {"x": {"datum": 230.6}, "y": {"datum": 1.18022}, "text": {"value": "H4"}}}
],
"resolve": {"scale": {"fill": "independent"}}
},
{
"width": 1021, "height": 26,
"view": {"fill": "#dfe5ed", "stroke": null},
"data": {"values": [{}]},
"layer": [
{"mark": {"type": "rect", "fill": "#000000"}, "encoding": {"x": {"datum": 0, "scale": {"domain": [0, 1021], "nice": false, "zero": false}, "axis": null}, "x2": {"datum": 1021}, "y": {"datum": 0, "scale": {"domain": [0, 26], "reverse": true, "nice": false, "zero": false}, "axis": null}, "y2": {"datum": 3}}},
{"mark": {"type": "rect", "fill": "#c7d2df"}, "encoding": {"x": {"datum": 0}, "x2": {"datum": 1021}, "y": {"datum": 3}, "y2": {"datum": 10}}},
{"mark": {"type": "text", "align": "left", "baseline": "middle", "fontSize": 6.8, "color": "#76828f"},
 "encoding": {"x": {"datum": 10}, "y": {"datum": 18}, "text": {"value": "EURUSD.oj1m,H1"}}},
{"mark": {"type": "rect", "fill": "#c9d6e6", "stroke": "#7f93ad", "strokeWidth": 0.8}, "encoding": {"x": {"datum": 0}, "x2": {"datum": 6}, "y": {"datum": 14.5}, "y2": {"datum": 21.5}}},
{"mark": {"type": "rect", "fill": "#e8edf3", "stroke": "#a9b3bf", "cornerRadius": 2}, "encoding": {"x": {"datum": 966}, "x2": {"datum": 982}, "y": {"datum": 13}, "y2": {"datum": 23}}},
{"mark": {"type": "rect", "fill": "#e8edf3", "stroke": "#a9b3bf", "cornerRadius": 2}, "encoding": {"x": {"datum": 984}, "x2": {"datum": 1000}, "y": {"datum": 13}, "y2": {"datum": 23}}},
{"mark": {"type": "rect", "fill": "#d2564a", "stroke": "#a9433a", "cornerRadius": 2}, "encoding": {"x": {"datum": 1002}, "x2": {"datum": 1018}, "y": {"datum": 13}, "y2": {"datum": 23}}}
]
},
{
"width": 994, "height": 223,
"view": {"fill": "#000000", "stroke": "#6b6b6b"},
"layer": [
{"data": {"name": "h1lv"}, "mark": {"type": "rule", "strokeWidth": 1},
 "encoding": {
  "y": {"field": "p", "type": "quantitative", "title": null, "scale": {"domain": [1.15679, 1.17809], "nice": false, "zero": false},
        "axis": {"orient": "right", "values": [1.15695,1.15865,1.1603,1.162,1.1637,1.1654,1.1671,1.1688,1.1705,1.1722,1.1739,1.1756,1.1773], "format": ".5f", "title": null, "grid": false, "domain": false, "tickSize": 2, "tickColor": "#8a8a8a", "labelPadding": 1, "labelFont": "Liberation Sans", "labelFontSize": 6, "labelColor": "#b4b4b4", "labelOverlap": false, "labelBound": false, "labelSeparation": 0}},
  "color": {"field": "k", "type": "nominal", "legend": null, "scale": {"domain": ["price", "white", "orange", "green"], "range": ["#404040", "#bdbdbd", "#b87400", "#1f8f1f"]}}}},
{"data": {"name": "h1"}, "mark": {"type": "rule", "strokeWidth": 1},
 "encoding": {
  "x": {"field": "i", "type": "quantitative", "title": null, "scale": {"domain": [-0.25, 231], "nice": false, "zero": false},
        "axis": {"values": [0,8,16,24,32,40,48,56,64,72,80,88,96,104,112,120,128,136,144,152,160,168,176,184,192], "labelExpr": "['9 Jan 2026','9 Jan 23:00','12 Jan 07:00','12 Jan 15:00','12 Jan 23:00','13 Jan 07:00','13 Jan 15:00','13 Jan 23:00','14 Jan 07:00','14 Jan 15:00','14 Jan 23:00','15 Jan 07:00','15 Jan 15:00','15 Jan 23:00','16 Jan 07:00','16 Jan 15:00','16 Jan 23:00','19 Jan 07:00','19 Jan 15:00','19 Jan 23:00','20 Jan 07:00','20 Jan 15:00','20 Jan 23:00','21 Jan 07:00','21 Jan 15:00'][round(datum.value/8)]", "title": null, "grid": false, "domain": false, "tickSize": 2, "tickColor": "#8a8a8a", "labelPadding": 1, "labelAlign": "left", "labelFont": "Liberation Sans Narrow, Liberation Sans", "labelFontSize": 5.4, "labelColor": "#b4b4b4", "labelOverlap": false, "labelBound": false, "labelFlush": false}},
  "y": {"field": "l", "type": "quantitative", "title": null}, "y2": {"field": "h"},
  "color": {"condition": {"test": "datum.c >= datum.o", "value": "#1aa6a8"}, "value": "#c0420c"}}},
{"data": {"name": "h1"}, "mark": {"type": "bar", "width": 3},
 "encoding": {"x": {"field": "i", "type": "quantitative", "title": null}, "y": {"field": "o", "type": "quantitative", "title": null}, "y2": {"field": "c"},
  "color": {"condition": {"test": "datum.c >= datum.o", "value": "#20c8cc"}, "value": "#ff4d0d"}}},
{"data": {"name": "h1ma"}, "mark": {"type": "line", "color": "#3f5fd6", "strokeWidth": 1.3},
 "encoding": {"x": {"field": "i", "type": "quantitative", "title": null}, "y": {"field": "m", "type": "quantitative", "title": null}}},
{"data": {"name": "h1lv"}, "mark": {"type": "rect", "height": 8},
 "encoding": {"x": {"datum": 231.4}, "x2": {"datum": 237}, "y": {"field": "p", "type": "quantitative", "title": null},
  "fill": {"field": "k", "type": "nominal", "legend": null, "scale": {"domain": ["price", "white", "orange", "green"], "range": ["#6e7b8b", "#ffffff", "#f4a100", "#25b825"]}}}},
{"data": {"name": "h1lv"}, "mark": {"type": "text", "align": "left", "baseline": "middle", "fontSize": 5.5, "dx": 1},
 "encoding": {"x": {"datum": 231.5}, "y": {"field": "p", "type": "quantitative", "title": null}, "text": {"field": "p", "format": ".5f"},
  "color": {"condition": {"test": "datum.k == 'price'", "value": "#ffffff"}, "value": "#000000"}}},
{"data": {"values": [{}]}, "mark": {"type": "text", "align": "left", "baseline": "alphabetic", "fontSize": 5.5, "color": "#9aa0a6"},
 "encoding": {"x": {"datum": 0.3}, "y": {"datum": 1.17762}, "text": {"value": "▾ EURUSD.oj1m,H1  1.17245 1.17283 1.17236 1.17251"}}},
{"data": {"values": [{}]}, "mark": {"type": "text", "align": "left", "baseline": "alphabetic", "fontSize": 12, "color": "#d8b000"},
 "encoding": {"x": {"datum": -0.1}, "y": {"datum": 1.17644}, "text": {"value": "EUR USD"}}},
{"data": {"values": [{}]}, "mark": {"type": "text", "align": "left", "baseline": "alphabetic", "fontSize": 11.5, "font": "Noto Sans CJK JP", "color": "#ffffff"},
 "encoding": {"x": {"datum": 14.9}, "y": {"datum": 1.17639}, "text": {"value": "メイン"}}},
{"data": {"values": [{}]}, "mark": {"type": "text", "align": "right", "baseline": "alphabetic", "fontSize": 19, "color": "#2e9e5e"},
 "encoding": {"x": {"datum": 230.6}, "y": {"datum": 1.17618}, "text": {"value": "H1"}}}
],
"resolve": {"scale": {"fill": "independent"}}
}
]
}
